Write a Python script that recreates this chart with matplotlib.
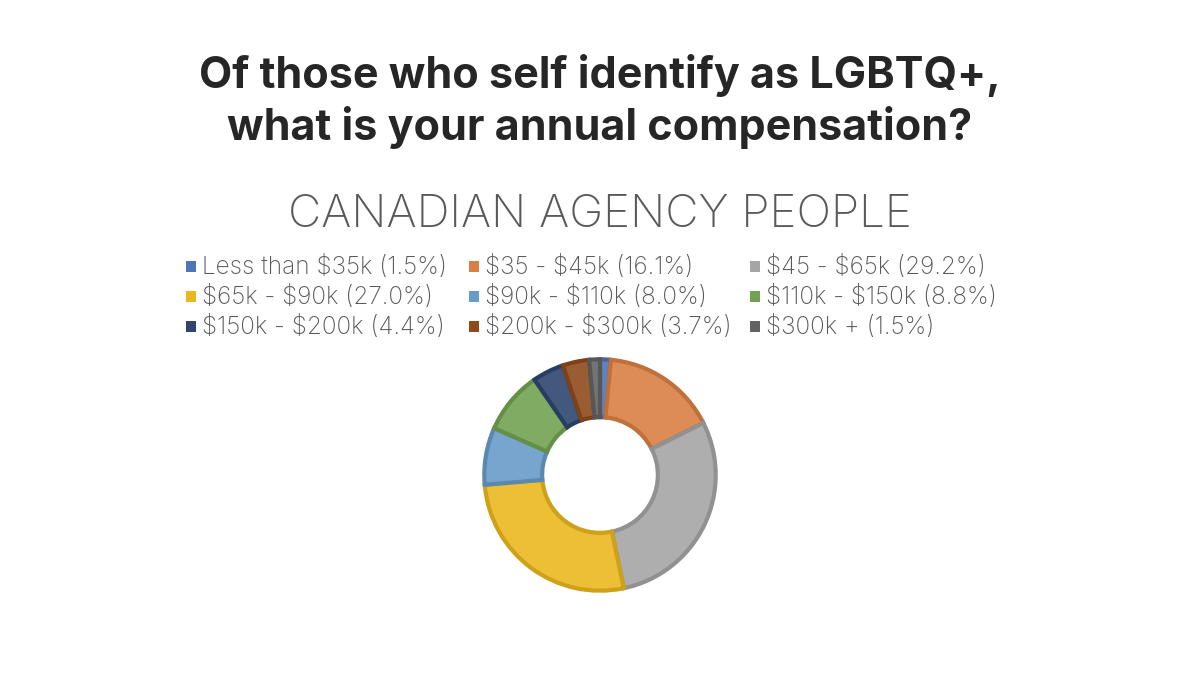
import matplotlib.pyplot as plt
from matplotlib.patches import Rectangle
from matplotlib.colors import to_rgb

categories = ["Less than $35k", "$35 - $45k", "$45 - $65k",
              "$65k - $90k", "$90k - $110k", "$110k - $150k",
              "$150k - $200k", "$200k - $300k", "$300k +"]
shares = [1.5, 16.1, 29.2, 27.0, 8.0, 8.8, 4.4, 3.7, 1.5]
colors = ["#4472C4", "#ED7D31", "#A5A5A5", "#FFC000", "#5B9BD5",
          "#70AD47", "#264478", "#9E480E", "#636363"]


def soften(c, k=0.1):
    r, g, b = to_rgb(c)
    return (r + (1 - r) * k, g + (1 - g) * k, b + (1 - b) * k)


def muted(c, k=0.2):
    r, g, b = to_rgb(c)
    m = (r + g + b) / 3
    return (r + (m - r) * k, g + (m - g) * k, b + (m - b) * k)


def darker(c, k=0.12):
    r, g, b = to_rgb(c)
    return (r * (1 - k), g * (1 - k), b * (1 - k))


fig = plt.figure(figsize=(12, 6.75), dpi=100)
fig.patch.set_facecolor("white")

fig.text(0.5, 0.888, "Of those who self identify as LGBTQ+,", ha="center", va="center",
         fontsize=31, fontweight="bold", color="#262626", family="Inter")
fig.text(0.5, 0.811, "what is your annual compensation?", ha="center", va="center",
         fontsize=31, fontweight="bold", color="#262626", family="Inter")
fig.text(0.5, 0.681, "CANADIAN AGENCY PEOPLE", ha="center", va="center",
         fontsize=33, fontweight="light", color="#595959", family="Inter")

# legend, three columns
col_x = [186, 469, 750]
row_y = [267, 297, 327]
for i, (cat, val, c) in enumerate(zip(categories, shares, colors)):
    x = col_x[i % 3]
    y = row_y[i // 3]
    fig.patches.append(Rectangle((x / 1200, 1 - (y + 5) / 675), 10 / 1200, 11 / 675,
                                 transform=fig.transFigure, facecolor=muted(c),
                                 edgecolor="none"))
    label = f"{cat} ({val:.1f}%)".replace("$", r"\$")
    fig.text((x + 16) / 1200, 1 - y / 675, label, ha="left", va="center",
             fontsize=17.5, color="#595959", family="Inter", fontweight="light")

# donut
ax = fig.add_axes([(600 - 118) / 1200, 1 - (475 + 118) / 675, 236 / 1200, 236 / 675])
wedges, _ = ax.pie(shares, startangle=90, counterclock=False, radius=1.0,
                   colors=[soften(muted(c)) for c in colors],
                   wedgeprops=dict(width=0.5, linewidth=3))
for w, c in zip(wedges, colors):
    w.set_edgecolor(darker(muted(c)))
ax.set_aspect("equal")
ax.set_xlim(-1.02, 1.02)
ax.set_ylim(-1.02, 1.02)
ax.axis("off")

fig.savefig("out.png", dpi=100, facecolor="white")
